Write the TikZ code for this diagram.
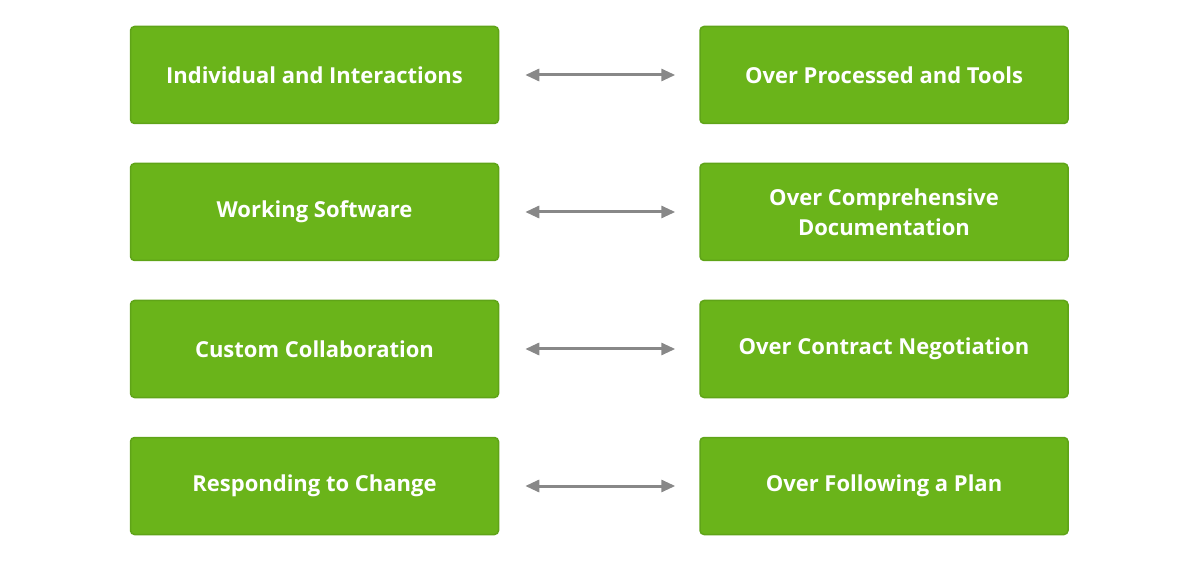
\documentclass[tikz,border=0pt]{standalone}
\usepackage{fontspec}
\setmainfont{Open Sans}
\usetikzlibrary{positioning,arrows.meta}
\definecolor{boxgreen}{HTML}{6AB41A}
\definecolor{boxedge}{HTML}{5FA418}
\definecolor{arrowgray}{HTML}{888888}
\tikzset{
  valuebox/.style={draw=boxedge, line width=1.5pt, fill=boxgreen, rounded corners=4pt,
    minimum width=368pt, minimum height=97pt, inner sep=0pt, text=white,
    font=\fontsize{22pt}{30pt}\selectfont\bfseries, align=center},
  versus/.style={draw=arrowgray, line width=3pt, {Triangle[width=12pt,length=14pt]}-{Triangle[width=12pt,length=14pt]},
    shorten <=26pt, shorten >=24pt}
}
\begin{document}
\begin{tikzpicture}[x=1pt,y=1pt]
\useasboundingbox (0,0) rectangle (1200,563);

% left column
\node[valuebox] (ind) at (314.5,488) {Individual and Interactions};
\node[valuebox] (soft) at (314.5,351) {Working Software};
\node[valuebox] (cust) at (314.5,214) {Custom Collaboration};
\node[valuebox] (resp) at (314.5,77) {Responding to Change};

% right column
\node[valuebox] (proc) at (884,488) {Over Processed and Tools};
\node[valuebox] (docs) at (884,351) {Over Comprehensive\\Documentation};
\node[valuebox] (contr) at (884,214) {Over Contract Negotiation};
\node[valuebox] (plan) at (884,77) {Over Following a Plan};

% arrows
\draw[versus] (ind.east) -- (proc.west);
\draw[versus] (soft.east) -- (docs.west);
\draw[versus] (cust.east) -- (contr.west);
\draw[versus] (resp.east) -- (plan.west);
\end{tikzpicture}
\end{document}
